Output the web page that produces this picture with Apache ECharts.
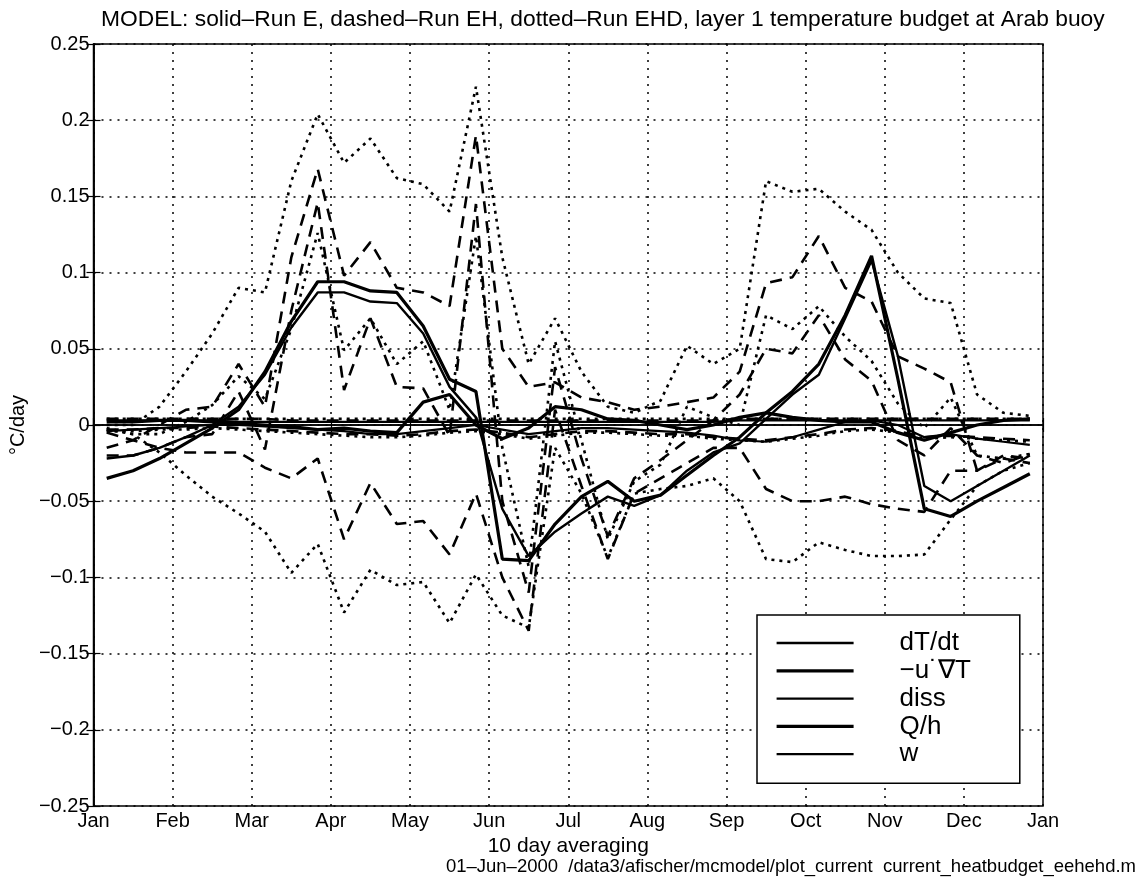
<!DOCTYPE html>
<html>
<head>
<meta charset="utf-8">
<title>Layer 1 temperature budget at Arab buoy</title>
<script src="https://cdn.jsdelivr.net/npm/echarts@6/dist/echarts.min.js"></script>
<style>
  html, body { margin: 0; padding: 0; background: #fff; }
  #chart { width: 1145px; height: 877px; }
</style>
</head>
<body>
<div id="chart"></div>
<script>
// Month tick labels (axis runs Jan 1 .. Jan 1 of next year, in months)
const months = ['Jan','Feb','Mar','Apr','May','Jun','Jul','Aug','Sep','Oct','Nov','Dec','Jan'];

// 10-day averaging windows: three per month, plotted at their midpoints (months since Jan 1)
const windowMid = Array.from({ length: 36 }, (_, k) => (2 * k + 1) / 6);

// Run E (solid)
const dTdtE   = [-0.022,-0.020,-0.015,-0.008, 0.000, 0.012, 0.033, 0.064, 0.087, 0.087, 0.081, 0.080, 0.060, 0.025, 0.005,-0.055,-0.086,-0.070,-0.058,-0.047,-0.053,-0.046,-0.030,-0.018,-0.012, 0.004, 0.020, 0.033, 0.070, 0.108, 0.045,-0.040,-0.050,-0.040,-0.030,-0.020];
const advE    = [ 0.002, 0.002, 0.003, 0.003, 0.002, 0.001, 0.000,-0.001,-0.003,-0.002,-0.004,-0.005, 0.015, 0.020, 0.000,-0.009,-0.002, 0.012, 0.010, 0.004, 0.003, 0.000,-0.003, 0.000, 0.005, 0.008, 0.005, 0.003, 0.002, 0.002,-0.005,-0.010,-0.005, 0.000, 0.003, 0.004];
const dissE   = [-0.004,-0.003,-0.002,-0.001, 0.000, 0.000,-0.001,-0.002,-0.003,-0.004,-0.006,-0.006,-0.004,-0.002, 0.000,-0.003,-0.006,-0.004,-0.002,-0.002,-0.003,-0.004,-0.005,-0.007,-0.010,-0.011,-0.008,-0.003, 0.002, 0.003, 0.000,-0.008,-0.006,-0.009,-0.011,-0.013];
const qhE     = [-0.035,-0.030,-0.022,-0.012,-0.002, 0.010, 0.035, 0.068, 0.094, 0.094, 0.088, 0.087, 0.065, 0.030, 0.022,-0.088,-0.089,-0.065,-0.047,-0.037,-0.050,-0.046,-0.033,-0.020,-0.008, 0.008, 0.022, 0.040, 0.072, 0.111, 0.030,-0.055,-0.060,-0.050,-0.041,-0.032];
const wE      = [ 0.003, 0.003, 0.003, 0.003, 0.003, 0.002, 0.002, 0.002, 0.002, 0.002, 0.002, 0.002, 0.002, 0.002, 0.002, 0.002, 0.002, 0.002, 0.002, 0.002, 0.002, 0.002, 0.002, 0.002, 0.003, 0.003, 0.003, 0.003, 0.003, 0.003, 0.003, 0.003, 0.003, 0.003, 0.003, 0.003];

// Run EH (dashed)
const dTdtEH  = [-0.020,-0.020,-0.015,-0.008,-0.006, 0.022,-0.016, 0.075, 0.146, 0.023, 0.070, 0.025, 0.024,-0.007, 0.145,-0.050,-0.110, 0.038,-0.022,-0.073,-0.035,-0.023,-0.010, 0.003, 0.020, 0.050, 0.047, 0.072, 0.043, 0.029,-0.010,-0.020,-0.002,-0.020,-0.025,-0.019];
const advEH   = [-0.005,-0.010,-0.015,-0.018,-0.018,-0.018,-0.028,-0.035,-0.022,-0.075,-0.038,-0.065,-0.063,-0.085,-0.045,-0.100,-0.135, 0.010,-0.040,-0.088,-0.045,-0.035,-0.025,-0.015,-0.015,-0.042,-0.050,-0.050,-0.047,-0.052,-0.055,-0.057,-0.030,-0.030,-0.020,-0.022];
const dissEH  = [-0.003,-0.003,-0.002,-0.002,-0.001,-0.002,-0.003,-0.004,-0.005,-0.006,-0.006,-0.007,-0.006,-0.004,-0.003,-0.005,-0.008,-0.006,-0.004,-0.004,-0.005,-0.006,-0.006,-0.008,-0.009,-0.010,-0.008,-0.006,-0.003,-0.002,-0.004,-0.008,-0.007,-0.008,-0.009,-0.010];
const qhEH    = [-0.015,-0.010, 0.000, 0.010, 0.012, 0.040, 0.012, 0.110, 0.168, 0.098, 0.120, 0.090, 0.087, 0.078, 0.190, 0.050, 0.025, 0.028, 0.018, 0.015, 0.010, 0.012, 0.015, 0.018, 0.035, 0.093, 0.097, 0.124, 0.090, 0.081, 0.045, 0.037, 0.028,-0.030,-0.022,-0.025];
const wEH     = [ 0.004, 0.004, 0.004, 0.004, 0.004, 0.004, 0.004, 0.003, 0.003, 0.003, 0.003, 0.003, 0.003, 0.003, 0.003, 0.003, 0.003, 0.003, 0.003, 0.003, 0.003, 0.003, 0.003, 0.003, 0.004, 0.004, 0.004, 0.004, 0.004, 0.004, 0.004, 0.004, 0.004, 0.004, 0.004, 0.004];

// Run EHD (dotted)
const dTdtEHD = [-0.003,-0.006,-0.006, 0.002, 0.013, 0.032, 0.017, 0.063, 0.126, 0.049, 0.070, 0.040, 0.055, 0.010, 0.124,-0.015,-0.093, 0.055,-0.010,-0.075,-0.037,-0.026, 0.012, 0.005, 0.000, 0.072, 0.063, 0.078, 0.058, 0.042, 0.014,-0.002, 0.018,-0.020,-0.022,-0.019];
const advEHD  = [-0.002,-0.006,-0.018,-0.033,-0.047,-0.058,-0.070,-0.097,-0.078,-0.123,-0.095,-0.105,-0.103,-0.130,-0.098,-0.125,-0.133,-0.015,-0.045,-0.087,-0.045,-0.042,-0.040,-0.035,-0.050,-0.088,-0.090,-0.077,-0.082,-0.086,-0.086,-0.085,-0.062,-0.040,-0.030,-0.025];
const dissEHD = [-0.004,-0.004,-0.003,-0.003,-0.002,-0.003,-0.004,-0.005,-0.006,-0.007,-0.008,-0.008,-0.007,-0.005,-0.004,-0.006,-0.009,-0.007,-0.005,-0.005,-0.006,-0.007,-0.007,-0.009,-0.010,-0.011,-0.009,-0.007,-0.004,-0.003,-0.005,-0.009,-0.008,-0.009,-0.010,-0.011];
const qhEHD   = [ 0.000, 0.000, 0.012, 0.035, 0.060, 0.090, 0.087, 0.160, 0.204, 0.172, 0.188, 0.162, 0.158, 0.140, 0.222, 0.110, 0.040, 0.070, 0.035, 0.012, 0.008, 0.016, 0.052, 0.040, 0.050, 0.160, 0.153, 0.155, 0.140, 0.128, 0.100, 0.083, 0.080, 0.020, 0.008, 0.006];
const wEHD    = [ 0.004, 0.004, 0.004, 0.004, 0.004, 0.004, 0.004, 0.004, 0.004, 0.004, 0.004, 0.004, 0.004, 0.004, 0.004, 0.004, 0.004, 0.004, 0.004, 0.004, 0.004, 0.004, 0.004, 0.004, 0.004, 0.004, 0.004, 0.004, 0.004, 0.004, 0.004, 0.004, 0.004, 0.004, 0.004, 0.004];

// Budget terms in legend order, with the weight each term is drawn at
const terms = [
  { name: 'dT/dt',  width: 2.4, runs: [dTdtE, dTdtEH, dTdtEHD] },
  { name: '\u2212u\u02d9\u2207T', width: 3.2, runs: [advE, advEH, advEHD] },
  { name: 'diss',   width: 2.2, runs: [dissE, dissEH, dissEHD] },
  { name: 'Q/h',    width: 3.2, runs: [qhE, qhEH, qhEHD] },
  { name: 'w',      width: 2.2, runs: [wE, wEH, wEHD] }
];
const runs = [
  { suffix: '',       dash: 'solid', width: null },
  { suffix: ' (EH)',  dash: [12, 8], width: 2.6 },
  { suffix: ' (EHD)', dash: [3, 5],  width: 2.6 }
];

const FONT = '"Liberation Sans", Arial, Helvetica, sans-serif';
const minus = s => String(s).replace('-', '\u2212');

const series = [];
runs.forEach((run, r) => {
  terms.forEach(t => {
    series.push({
      type: 'line',
      name: t.name + run.suffix,
      data: windowMid.map((x, i) => [x, t.runs[r][i]]),
      symbol: 'none',
      silent: true,
      itemStyle: { color: '#000' },
      lineStyle: { color: '#000', width: run.width || t.width, type: run.dash, cap: 'butt' },
      z: 3
    });
  });
});

const chart = echarts.init(document.getElementById('chart'), null, { renderer: 'canvas' });
chart.setOption({
  backgroundColor: '#fff',
  animation: false,
  textStyle: { fontFamily: FONT, color: '#000' },
  title: {
    text: 'MODEL: solid\u2013Run E, dashed\u2013Run EH, dotted\u2013Run EHD, layer 1 temperature budget at Arab buoy',
    left: 96, top: 3,
    textStyle: { fontFamily: FONT, fontSize: 22.8, fontWeight: 'normal', color: '#000' }
  },
  grid: { left: 92, right: 102, top: 44, bottom: 71, show: true, borderColor: '#000', borderWidth: 1.5, backgroundColor: 'transparent' },
  legend: {
    data: terms.map(t => ({ name: t.name, lineStyle: { width: t.width, color: '#000', type: 'solid' } })),
    orient: 'vertical',
    left: 757, top: 615,
    padding: [15, 49, 16, 18],
    itemGap: 1.8,
    itemWidth: 77, itemHeight: 12,
    backgroundColor: '#fff',
    borderColor: '#000', borderWidth: 1.5,
    selectedMode: false,
    itemStyle: { opacity: 0 },
    textStyle: { fontFamily: FONT, fontSize: 26, lineHeight: 26, color: '#000', padding: [0, 0, 0, 41] }
  },
  xAxis: [{
    type: 'value', min: 0, max: 12, interval: 1, position: 'bottom',
    name: '10 day averaging', nameLocation: 'middle', nameGap: 28,
    nameTextStyle: { fontFamily: FONT, fontSize: 21, color: '#000' },
    axisLine: { show: true, lineStyle: { color: '#000', width: 1.5 } },
    axisTick: { show: true, inside: true, length: 7, lineStyle: { color: '#000', width: 1.2 } },
    axisLabel: { formatter: v => months[v] || '', fontSize: 20, color: '#000', margin: 5, fontFamily: FONT },
    splitLine: { show: true, lineStyle: { color: '#000', width: 1.5, type: [2, 6] } }
  }, {
    type: 'value', min: 0, max: 12, interval: 1, position: 'top',
    axisLine: { show: true, lineStyle: { color: '#000', width: 1.5 } },
    axisTick: { show: true, inside: true, length: 7, lineStyle: { color: '#000', width: 1.2 } },
    axisLabel: { show: false }, splitLine: { show: false }
  }],
  yAxis: [{
    type: 'value', min: -0.25, max: 0.25, interval: 0.05, position: 'left',
    name: '\u00b0C/day', nameLocation: 'middle', nameGap: 57, nameRotate: 90,
    nameTextStyle: { fontFamily: FONT, fontSize: 20, color: '#000' },
    axisLine: { show: true, lineStyle: { color: '#000', width: 1.5 } },
    axisTick: { show: true, inside: true, length: 7, lineStyle: { color: '#000', width: 1.2 } },
    axisLabel: { formatter: v => minus(+v.toFixed(2)), fontSize: 20, color: '#000', margin: 4, fontFamily: FONT },
    splitLine: { show: true, lineStyle: { color: '#000', width: 1.5, type: [2, 6] } }
  }, {
    type: 'value', min: -0.25, max: 0.25, interval: 0.05, position: 'right',
    axisLine: { show: true, lineStyle: { color: '#000', width: 1.5 } },
    axisTick: { show: true, inside: true, length: 7, lineStyle: { color: '#000', width: 1.2 } },
    axisLabel: { show: false }, splitLine: { show: false }
  }],
  graphic: [{
    type: 'text', right: 9, bottom: 1,
    style: {
      text: '01\u2013Jun\u20132000  /data3/afischer/mcmodel/plot_current  current_heatbudget_eehehd.m',
      font: '18.5px ' + FONT, fill: '#000'
    }
  }],
  series: series
});
</script>
</body>
</html>
